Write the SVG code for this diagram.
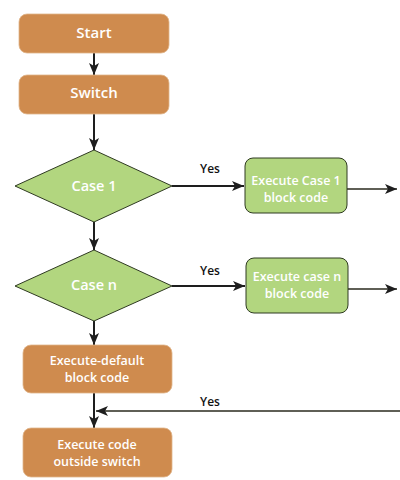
<svg xmlns="http://www.w3.org/2000/svg" width="400" height="480" viewBox="0 0 400 480">
<style>
.orange{fill:#CF8B4E;stroke:#E0B58A;stroke-width:0.8}
.green{fill:#B2D67F;stroke:#2F3A22;stroke-width:1}
.t{font-family:"Open Sans","Liberation Sans",sans-serif;font-weight:600;fill:#FFFFFF;text-anchor:middle}
.y{font-family:"Open Sans","Liberation Sans",sans-serif;font-weight:600;fill:#111;font-size:12px;text-anchor:middle}
.ln{stroke:#1E1E1E;stroke-width:2;fill:none}
.thin{stroke:#2A2A1E;stroke-width:1.3;fill:none}
</style>
<defs>
<marker id="ah" viewBox="0 0 12 10" refX="12" refY="5" markerWidth="12" markerHeight="10" markerUnits="userSpaceOnUse" orient="auto">
<path d="M0,0 L12,5 L0,10 L3,5 Z" fill="#1E1E1E"/>
</marker>
</defs>
<g id="connectors">
<line class="ln" x1="94" y1="53" x2="94" y2="75" marker-end="url(#ah)"/>
<line class="ln" x1="94" y1="114" x2="94" y2="150" marker-end="url(#ah)"/>
<line class="ln" x1="94" y1="222" x2="94" y2="250" marker-end="url(#ah)"/>
<line class="ln" x1="94" y1="321" x2="94" y2="345" marker-end="url(#ah)"/>
<line class="ln" x1="94" y1="393" x2="94" y2="428" marker-end="url(#ah)"/>
<line class="ln" x1="172" y1="186" x2="244" y2="186" marker-end="url(#ah)"/>
<line class="ln" x1="172" y1="286" x2="245" y2="286" marker-end="url(#ah)"/>
<line class="thin" x1="347" y1="189" x2="397" y2="189" marker-end="url(#ah)"/>
<line class="thin" x1="348" y1="289" x2="397" y2="289" marker-end="url(#ah)"/>
<line class="thin" x1="400" y1="411" x2="96" y2="411" marker-end="url(#ah)"/>
<text class="y" x="210" y="173">Yes</text>
<text class="y" x="210" y="275">Yes</text>
<text class="y" x="210" y="406">Yes</text>
</g>
<g id="start">
<rect class="orange" x="19" y="14" width="150" height="39" rx="8"/>
<text class="t" x="94" y="38" font-size="15">Start</text>
</g>
<g id="switch">
<rect class="orange" x="19" y="75" width="150" height="39" rx="8"/>
<text class="t" x="94" y="98" font-size="15">Switch</text>
</g>
<g id="case1">
<polygon class="green" points="94,150 172,186 94,222 15,186"/>
<text class="t" x="94" y="191" font-size="14.5">Case 1</text>
</g>
<g id="exec1">
<rect class="green" x="245" y="158" width="102" height="55" rx="8"/>
<text class="t" x="296" y="185" font-size="12.5">Execute Case 1</text>
<text class="t" x="296" y="202" font-size="12.5">block code</text>
</g>
<g id="casen">
<polygon class="green" points="94,250 172,286 94,321 15,286"/>
<text class="t" x="94" y="290" font-size="14.5">Case n</text>
</g>
<g id="execn">
<rect class="green" x="246" y="258" width="102" height="55" rx="8"/>
<text class="t" x="297" y="281" font-size="12.5">Execute case n</text>
<text class="t" x="297" y="298" font-size="12.5">block code</text>
</g>
<g id="default">
<rect class="orange" x="23" y="345" width="149" height="48" rx="8"/>
<text class="t" x="97" y="365" font-size="12.5">Execute-default</text>
<text class="t" x="97" y="382" font-size="12.5">block code</text>
</g>
<g id="outside">
<rect class="orange" x="23" y="428" width="149" height="49" rx="8"/>
<text class="t" x="97" y="449" font-size="12.5">Execute code</text>
<text class="t" x="97" y="466" font-size="12.5">outside switch</text>
</g>
</svg>
